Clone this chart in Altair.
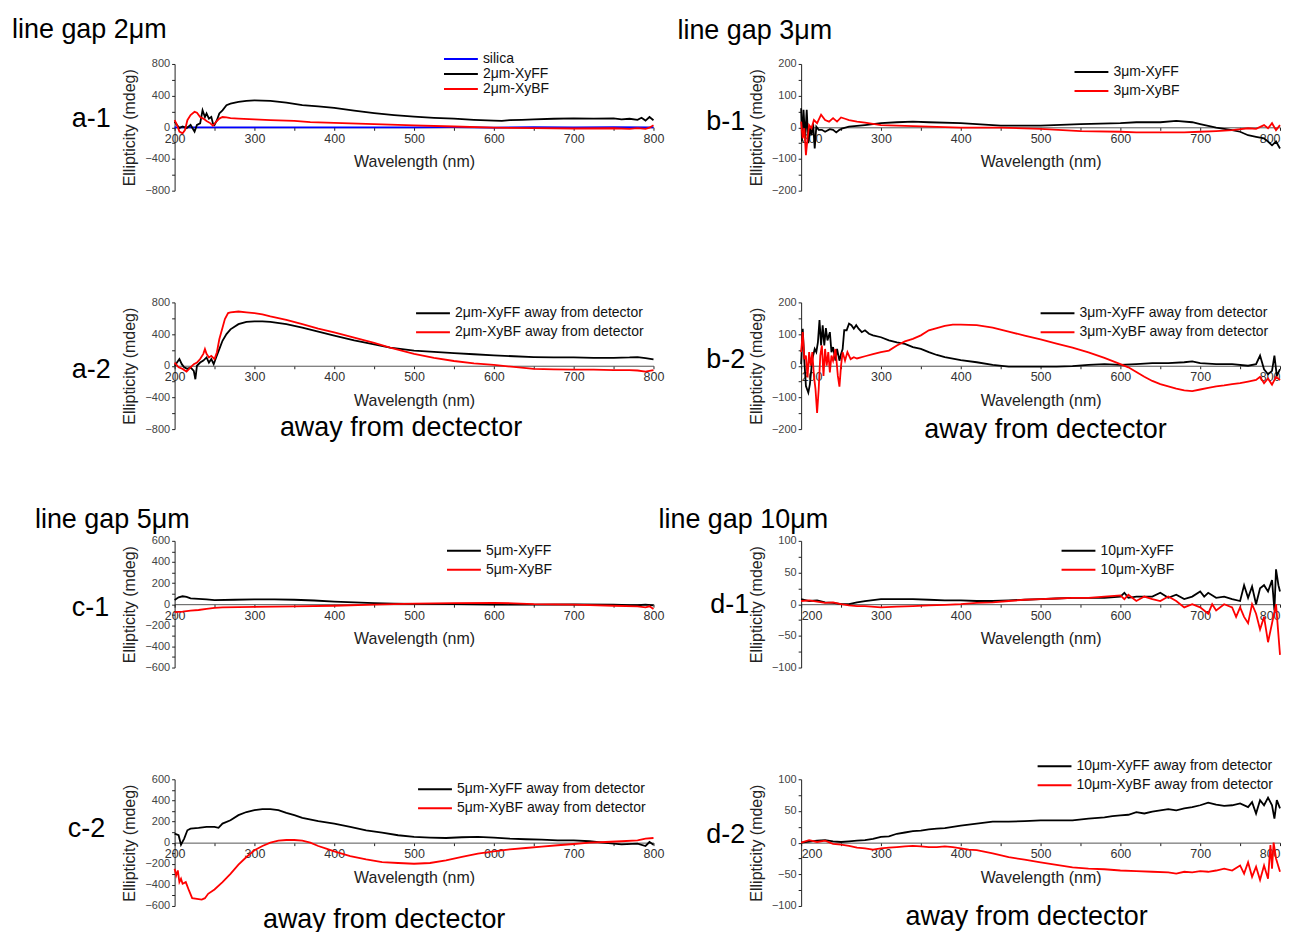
import altair as alt
import pandas as pd

# ---------------- data ----------------
# panel a-1
a1_si_wl = [200, 250, 300, 350, 400, 450, 500, 550, 600, 650, 700, 750, 800]
a1_si = [0, 0, 0, 0, 0, 0, 0, 2, -3, 3, -2, 3, 0]
a1_ff_wl = [200, 203, 206, 210, 215, 220, 225, 228, 232, 235, 238, 240, 243, 246, 248, 250, 253, 256, 260, 265, 270, 280, 290, 300, 320, 340, 360, 380, 400, 425, 450, 475, 500, 525, 550, 575, 600, 610, 620, 635, 650, 675, 700, 725, 750, 760, 770, 780, 785, 790, 795, 800]
a1_ff = [70, 30, -10, 10, -10, 30, -55, 30, 50, 215, 130, 175, 110, 130, 50, 30, 90, 175, 215, 280, 300, 320, 333, 340, 333, 313, 280, 265, 245, 210, 180, 155, 135, 120, 110, 95, 85, 80, 90, 95, 100, 108, 112, 110, 112, 100, 108, 95, 120, 85, 130, 90]
a1_bf_wl = [200, 203, 206, 210, 213, 216, 220, 225, 228, 232, 236, 240, 245, 248, 252, 256, 260, 265, 270, 280, 300, 320, 350, 370, 400, 450, 500, 550, 600, 650, 700, 750, 770, 780, 790, 795, 800]
a1_bf = [90, 30, -55, -75, -35, 90, 155, 195, 185, 130, 110, 80, 50, 20, 70, 110, 130, 125, 115, 110, 100, 92, 80, 65, 55, 40, 25, 10, -5, -10, -15, -12, -20, -10, -20, -5, 25]

# panel a-2
a2_ff_wl = [200, 203, 206, 209, 212, 216, 220, 224, 226, 228, 232, 236, 240, 243, 246, 249, 252, 256, 260, 265, 270, 280, 290, 300, 310, 320, 340, 360, 380, 400, 425, 450, 470, 500, 525, 550, 575, 600, 625, 650, 675, 700, 725, 750, 770, 780, 790, 800]
a2_ff = [0, 40, 85, 20, -20, -40, -20, -65, -170, 0, 40, 65, 105, 40, 85, 20, 105, 210, 315, 400, 460, 525, 555, 560, 560, 555, 525, 480, 430, 380, 320, 270, 230, 190, 175, 160, 145, 130, 120, 110, 105, 105, 100, 100, 105, 110, 95, 80]
a2_bf_wl = [200, 205, 210, 215, 220, 224, 228, 232, 236, 238, 240, 243, 246, 250, 253, 256, 260, 263, 267, 270, 280, 290, 300, 310, 320, 340, 360, 380, 400, 425, 450, 470, 500, 525, 550, 575, 600, 625, 650, 675, 700, 725, 750, 770, 780, 790, 800]
a2_bf = [40, -20, -40, -75, -20, 20, 40, 85, 150, 210, 150, 105, 125, 85, 170, 335, 480, 590, 665, 675, 685, 675, 665, 650, 625, 580, 525, 470, 420, 355, 290, 230, 150, 100, 60, 30, 10, -15, -40, -45, -50, -50, -55, -55, -60, -75, -55]

# panel b-1
b1_ff_wl = [200, 201, 203, 205, 207, 209, 211, 213, 215, 217, 219, 222, 226, 230, 236, 240, 244, 248, 252, 260, 280, 300, 320, 340, 360, 400, 450, 500, 550, 600, 620, 650, 670, 690, 700, 720, 740, 750, 760, 770, 780, 785, 790, 795, 800]
b1_ff = [60, -45, 55, -35, 55, -50, -3, -25, 13, -67, 2, -8, -8, -14, -6, -8, -16, -8, -3, 2, 7, 13, 16, 18, 16, 13, 5, 5, 10, 13, 16, 16, 20, 16, 10, -1, -9, -14, -25, -30, -35, -45, -57, -45, -67]
b1_bf_wl = [200, 202, 204, 206, 208, 210, 213, 216, 220, 225, 230, 235, 240, 245, 250, 255, 260, 270, 280, 300, 320, 360, 400, 450, 500, 550, 600, 620, 650, 680, 700, 720, 740, 760, 770, 780, 785, 790, 795, 800]
b1_bf = [18, -35, -3, -88, -35, 7, -3, 23, 13, 40, 23, 18, 29, 18, 31, 27, 23, 18, 15, 7, 5, 2, -1, -1, -5, -12, -14, -16, -16, -16, -14, -12, -9, -3, -5, 7, -3, 13, -9, 7]

# panel b-2
b2_ff_wl = [200, 202, 204, 206, 209, 211, 214, 217, 219, 221, 223, 225, 227, 229, 231, 233, 236, 238, 240, 243, 245, 248, 250, 252, 254, 257, 260, 263, 266, 269, 272, 276, 280, 285, 290, 300, 310, 320, 330, 340, 350, 360, 370, 380, 400, 420, 440, 460, 480, 500, 520, 540, 560, 580, 600, 620, 640, 660, 680, 690, 700, 720, 740, 760, 770, 775, 780, 785, 790, 793, 796, 800]
b2_ff = [5, 117, 16, -64, -85, -58, 21, 53, 43, 74, 144, 64, 128, 64, 119, 80, 106, 43, 59, 16, 53, 16, 37, 53, 112, 112, 133, 128, 117, 128, 117, 106, 112, 101, 96, 90, 80, 74, 69, 59, 53, 43, 34, 27, 18, 11, 3, -3, -3, -3, -3, -1, 3, 5, 3, 5, 8, 8, 11, 14, 8, 5, 5, 0, 5, 32, -11, -27, -16, 32, -32, -11]
b2_bf_wl = [200, 202, 204, 206, 208, 210, 212, 214, 216, 218, 220, 222, 224, 226, 228, 230, 232, 234, 236, 238, 240, 243, 246, 248, 250, 252, 255, 258, 262, 266, 270, 280, 290, 300, 310, 320, 330, 340, 350, 360, 370, 380, 390, 400, 420, 440, 460, 480, 500, 520, 540, 560, 580, 600, 610, 620, 630, 640, 650, 660, 670, 680, 690, 700, 710, 720, 730, 740, 750, 760, 770, 775, 780, 785, 790, 795, 800]
b2_bf = [43, 106, 21, 32, -37, 43, 0, 43, -32, -74, -149, -74, 32, 64, -32, 53, 0, 43, -21, 32, 16, 53, -32, -66, 0, 43, 16, 43, 21, 27, 23, 30, 37, 43, 48, 64, 77, 85, 96, 112, 119, 126, 130, 130, 128, 120, 108, 95, 83, 70, 57, 42, 25, 5, -5, -20, -35, -48, -58, -65, -72, -78, -80, -75, -70, -65, -62, -58, -55, -50, -45, -35, -55, -40, -60, -35, -45]

# panel c-1
c1_ff_wl = [200, 205, 210, 215, 220, 230, 240, 250, 275, 300, 325, 350, 375, 400, 425, 450, 475, 500, 550, 600, 650, 700, 750, 770, 780, 790, 800]
c1_ff = [40, 65, 75, 70, 55, 50, 45, 38, 42, 45, 45, 42, 35, 25, 18, 10, 5, 3, 0, -3, -5, -3, -5, -8, -10, -5, -12]
c1_bf_wl = [200, 210, 220, 230, 240, 250, 260, 300, 350, 400, 450, 500, 550, 600, 625, 650, 700, 750, 780, 790, 795, 800]
c1_bf = [-75, -70, -60, -55, -45, -35, -30, -25, -20, -15, -5, 5, 10, 12, 8, 0, -5, -15, -20, -30, -20, -45]

# panel c-2
c2_ff_wl = [200, 205, 208, 212, 216, 220, 230, 240, 250, 255, 260, 270, 280, 290, 300, 310, 320, 330, 340, 350, 360, 380, 400, 420, 440, 460, 480, 500, 520, 540, 560, 580, 600, 620, 640, 660, 680, 700, 720, 740, 760, 780, 790, 795, 800]
c2_ff = [85, 70, -20, 38, 117, 133, 140, 149, 149, 140, 180, 212, 260, 290, 307, 317, 317, 307, 282, 260, 235, 203, 180, 149, 117, 95, 70, 54, 48, 44, 51, 54, 48, 38, 32, 29, 22, 22, 13, -3, -16, -10, -32, 6, -19]
c2_bf_wl = [200, 202, 204, 206, 208, 210, 214, 218, 222, 228, 234, 238, 242, 250, 260, 270, 280, 290, 300, 310, 320, 330, 340, 350, 360, 370, 380, 390, 400, 420, 440, 460, 480, 500, 520, 540, 560, 580, 600, 620, 640, 660, 680, 700, 720, 740, 760, 780, 790, 800]
c2_bf = [-247, -311, -263, -374, -342, -390, -374, -453, -526, -533, -539, -526, -485, -444, -374, -295, -209, -136, -73, -32, 0, 19, 25, 25, 19, 0, -32, -57, -82, -127, -158, -184, -193, -200, -193, -168, -136, -105, -82, -63, -51, -38, -25, -13, 0, 6, 13, 22, 38, 44]

# panel d-1
d1_ff_wl = [200, 210, 220, 230, 240, 250, 260, 270, 280, 300, 320, 340, 360, 380, 400, 420, 440, 460, 480, 500, 520, 540, 560, 580, 600, 605, 610, 620, 640, 650, 660, 670, 680, 690, 700, 705, 710, 720, 730, 740, 750, 755, 760, 765, 770, 775, 780, 785, 790, 793, 795, 798, 800]
d1_ff = [8, 5, 6, 3, 2, 0, 0, 3, 5, 8, 8, 8, 7, 6, 6, 5, 5, 6, 7, 8, 9, 10, 10, 10, 12, 18, 10, 12, 12, 18, 10, 15, 8, 12, 20, 12, 18, 10, 12, 8, 5, 30, 10, 28, 0, 25, 30, 20, 38, -10, 55, 30, 20]
d1_bf_wl = [200, 210, 220, 230, 240, 250, 260, 270, 280, 300, 320, 340, 360, 380, 400, 420, 440, 460, 480, 500, 520, 540, 560, 580, 600, 605, 610, 620, 630, 640, 650, 660, 670, 680, 690, 700, 710, 715, 720, 730, 740, 745, 750, 755, 760, 765, 770, 775, 780, 785, 790, 795, 800]
d1_bf = [5, 6, 4, 2, 3, 0, -2, -3, -3, -5, -4, -3, -2, -1, 0, 2, 3, 5, 7, 8, 9, 10, 10, 12, 14, 8, 15, 5, 12, 8, 5, 12, 5, -5, 0, -5, -15, 0, -10, 0, -5, -20, -5, -20, -30, 0, -15, -40, -20, -60, -30, 0, -80]

# panel d-2
d2_ff_wl = [200, 220, 230, 240, 250, 260, 270, 280, 290, 300, 310, 320, 330, 340, 350, 360, 370, 380, 400, 420, 440, 460, 480, 500, 520, 540, 560, 580, 590, 600, 610, 620, 630, 640, 650, 660, 670, 680, 690, 700, 710, 720, 730, 740, 750, 760, 765, 770, 775, 780, 785, 790, 793, 796, 800]
d2_ff = [0, 3, 4, 2, 1, 2, 3, 4, 6, 9, 10, 14, 16, 18, 19, 21, 22, 23, 27, 30, 33, 33, 34, 35, 35, 35, 38, 40, 42, 43, 44, 48, 46, 49, 51, 53, 51, 54, 56, 59, 63, 60, 58, 59, 62, 56, 64, 46, 67, 59, 71, 59, 38, 67, 54]
d2_bf_wl = [200, 210, 220, 230, 240, 250, 260, 270, 280, 290, 300, 310, 320, 330, 340, 350, 360, 370, 380, 390, 400, 410, 420, 440, 460, 480, 500, 520, 540, 560, 580, 600, 620, 640, 660, 670, 680, 690, 700, 710, 720, 730, 740, 750, 755, 760, 765, 770, 775, 780, 785, 788, 790, 792, 795, 800]
d2_bf = [0, 4, 1, 3, -2, -3, -5, -8, -9, -11, -9, -8, -7, -6, -5, -6, -7, -7, -6, -7, -9, -11, -12, -17, -23, -27, -31, -35, -39, -41, -42, -44, -45, -46, -47, -49, -46, -47, -45, -46, -44, -41, -44, -36, -49, -31, -54, -38, -59, -36, -57, -4, -41, 0, -25, -46]

# ---------------- styling ----------------
FONT = "Liberation Sans"
W, H = 480, 127
BLACK, RED, BLUE = "#000000", "#ff0000", "#0000ff"
BIG = 27


def make_df(series):
    rows = []
    for k, (name, wl, vals) in enumerate(series):
        for w, v in zip(wl, vals):
            rows.append({"wl": w, "val": v, "series": name, "k": k})
    return pd.DataFrame(rows)


def txt(t, x, y, size=BIG, align="left"):
    return alt.Chart(pd.DataFrame({"t": [t]})).mark_text(
        align=align, baseline="middle", fontSize=size, font=FONT, color="#000000"
    ).encode(text="t:N", x=alt.value(x), y=alt.value(y))


def panel(series, colors, ymax, ymajor, yminor, tag, tag_xy, legend_xy,
          row_pad=5, title=None, title_xy=None, away_xy=None, flush=False):
    names = [s[0] for s in series]
    df = make_df(series)
    yvals = list(range(-ymax, ymax + 1, yminor))
    xvals = list(range(200, 801, 50))
    lines = alt.Chart(df).mark_line(strokeWidth=1.8).encode(
        x=alt.X("wl:Q",
                scale=alt.Scale(domain=[200, 800], nice=False, zero=False),
                axis=alt.Axis(title="Wavelength (nm)", values=xvals,
                              labelExpr="datum.value % 100 == 0 ? datum.label : ''",
                              offset=-H / 2, grid=False, labelOverlap=False,
                              labelFlush=flush,
                              labelFont=FONT, labelFontSize=12.5, labelColor="#333333",
                              labelPadding=2, tickSize=3, tickColor="#222222",
                              domainColor="#555555", domainWidth=1,
                              titleFont=FONT, titleFontSize=16, titleFontWeight="normal",
                              titleColor="#222222", titlePadding=9)),
        y=alt.Y("val:Q",
                scale=alt.Scale(domain=[-ymax, ymax], nice=False, zero=False),
                axis=alt.Axis(title="Ellipticity (mdeg)", values=yvals,
                              labelExpr=f"datum.value % {ymajor} == 0 ? datum.label : ''",
                              grid=False, labelOverlap=False,
                              labelFont=FONT, labelFontSize=11, labelColor="#444444",
                              labelPadding=2, tickSize=3, tickColor="#222222",
                              domainColor="#222222", domainWidth=1,
                              titleFont=FONT, titleFontSize=16, titleFontWeight="normal",
                              titleColor="#222222", titlePadding=7)),
        color=alt.Color("series:N",
                        scale=alt.Scale(domain=names, range=colors),
                        legend=alt.Legend(title=None, orient="none",
                                          legendX=legend_xy[0] - 1, legendY=legend_xy[1],
                                          symbolType="M-4,0H4", symbolSize=72,
                                          symbolOffset=13,
                                          symbolStrokeWidth=2, labelFont=FONT,
                                          labelFontSize=14, labelColor="#111111",
                                          labelOffset=15, labelLimit=500,
                                          rowPadding=row_pad, padding=0)),
        order="k:O",
    )
    layers = [lines, txt(tag, tag_xy[0], tag_xy[1])]
    if title is not None:
        layers.append(txt(title, title_xy[0], title_xy[1]))
    if away_xy is not None:
        layers.append(txt("away from dectector", away_xy[0], away_xy[1], align="center"))
    return alt.layer(*layers).properties(width=W, height=H)


a1 = panel([("silica", a1_si_wl, a1_si), ("2μm-XyFF", a1_ff_wl, a1_ff), ("2μm-XyBF", a1_bf_wl, a1_bf)],
           [BLUE, BLACK, RED], 800, 400, 200, "a-1", (-103, 55), (268, -12), row_pad=1,
           title="line gap 2μm", title_xy=(-163, -34))
a2 = panel([("2μm-XyFF away from detector", a2_ff_wl, a2_ff), ("2μm-XyBF away from detector", a2_bf_wl, a2_bf)],
           [BLACK, RED], 800, 400, 200, "a-2", (-103, 68), (240, 4), away_xy=(227, 126))
b1 = panel([("3μm-XyFF", b1_ff_wl, b1_ff), ("3μm-XyBF", b1_bf_wl, b1_bf)],
           [BLACK, RED], 200, 100, 50, "b-1", (-95, 58), (272, 1),
           title="line gap 3μm", title_xy=(-124, -33), flush=True)
b2 = panel([("3μm-XyFF away from detector", b2_ff_wl, b2_ff), ("3μm-XyBF away from detector", b2_bf_wl, b2_bf)],
           [BLACK, RED], 200, 100, 50, "b-2", (-95, 58), (238, 4), away_xy=(245, 128), flush=True)
c1 = panel([("5μm-XyFF", c1_ff_wl, c1_ff), ("5μm-XyBF", c1_bf_wl, c1_bf)],
           [BLACK, RED], 600, 200, 100, "c-1", (-103, 67), (271, 3),
           title="line gap 5μm", title_xy=(-140, -21))
c2 = panel([("5μm-XyFF away from detector", c2_ff_wl, c2_ff), ("5μm-XyBF away from detector", c2_bf_wl, c2_bf)],
           [BLACK, RED], 600, 200, 100, "c-2", (-107, 50), (242, 3), away_xy=(210, 141))
d1 = panel([("10μm-XyFF", d1_ff_wl, d1_ff), ("10μm-XyBF", d1_bf_wl, d1_bf)],
           [BLACK, RED], 100, 50, 25, "d-1", (-91, 64), (259, 3),
           title="line gap 10μm", title_xy=(-143, -21), flush=True)
d2 = panel([("10μm-XyFF away from detector", d2_ff_wl, d2_ff), ("10μm-XyBF away from detector", d2_bf_wl, d2_bf)],
           [BLACK, RED], 100, 50, 25, "d-2", (-95, 56), (235, -20), away_xy=(226, 138), flush=True)

chart = alt.concat(
    a1, b1, a2, b2, c1, d1, c2, d2,
    columns=2,
    spacing=alt.RowColnumber(row=112, column=148),
    bounds="flush",
).resolve_scale(color="independent").resolve_legend(color="independent").properties(
    padding={"left": 4, "top": 7, "right": 0, "bottom": 0}
).configure(font=FONT).configure_view(stroke=None)

chart.save("out.html", embed_options={"renderer": "svg", "actions": False})
